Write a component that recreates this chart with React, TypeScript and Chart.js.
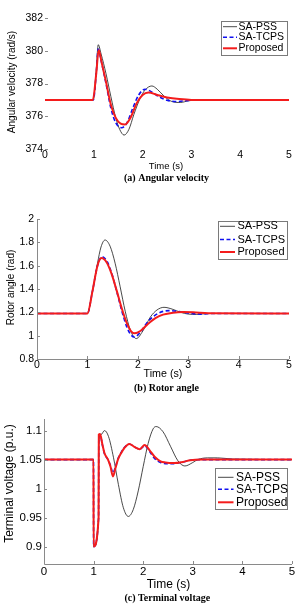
import React, { useEffect, useRef } from "react";
import { Chart, registerables } from "chart.js";
Chart.register(...registerables);

// ---------- shared axis data ----------
const X_TICKS = [0, 1, 2, 3, 4, 5];
const X_LABELS = ["0", "1", "2", "3", "4", "5"];
const SERIES_NAMES = ["SA-PSS", "SA-TCPS", "Proposed"];

// ---------- (a) Angular velocity ----------
const A_Y_TICKS = [374, 376, 378, 380, 382];
const A_Y_LABELS = ["374", "376", "378", "380", "382"];
const A_T_PSS = [0, 0.99, 1.05, 1.09, 1.15, 1.25, 1.35, 1.45, 1.53, 1.62, 1.72, 1.82, 1.95, 2.05, 2.19, 2.3, 2.45, 2.6, 2.77, 2.95, 3.2, 5];
const A_V_PSS = [377, 377, 378.8, 380.37, 379.8, 378.6, 377.2, 375.9, 375.2, 374.85, 375.2, 376.1, 377.1, 377.6, 377.85, 377.65, 377.2, 376.9, 376.84, 376.95, 377.0, 377];
const A_T_TCPS = [0, 0.99, 1.05, 1.09, 1.15, 1.25, 1.35, 1.45, 1.57, 1.68, 1.8, 1.92, 2.05, 2.15, 2.3, 2.5, 2.7, 2.9, 3.2, 5];
const A_V_TCPS = [377, 377, 378.6, 380.1, 379.4, 378.0, 376.5, 375.6, 375.3, 375.6, 376.5, 377.3, 377.65, 377.55, 377.25, 376.98, 376.9, 376.95, 377.0, 377];
const A_T_PROP = [0, 0.98, 1.05, 1.1, 1.16, 1.25, 1.35, 1.45, 1.55, 1.64, 1.75, 1.88, 2.0, 2.12, 2.3, 2.5, 2.75, 3.0, 5];
const A_V_PROP = [377, 377, 378.6, 380.05, 379.3, 378.1, 376.7, 375.9, 375.55, 375.5, 375.9, 376.8, 377.3, 377.45, 377.3, 377.15, 377.05, 377.0, 377];

// ---------- (b) Rotor angle ----------
const B_Y_TICKS = [0.8, 1, 1.2, 1.4, 1.6, 1.8, 2];
const B_Y_LABELS = ["0.8", "1", "1.2", "1.4", "1.6", "1.8", "2"];
const B_T_PSS = [0, 1.0, 1.1, 1.2, 1.27, 1.35, 1.45, 1.55, 1.65, 1.75, 1.85, 1.97, 2.1, 2.25, 2.38, 2.52, 2.68, 2.85, 3.0, 3.17, 3.4, 5];
const B_V_PSS = [1.19, 1.19, 1.38, 1.62, 1.76, 1.82, 1.767, 1.621, 1.419, 1.21, 1.05, 0.975, 1.04, 1.16, 1.22, 1.243, 1.228, 1.2, 1.185, 1.182, 1.19, 1.19];
const B_T_TCPS = [0, 1.0, 1.1, 1.2, 1.29, 1.39, 1.49, 1.59, 1.69, 1.79, 1.86, 1.93, 2.05, 2.2, 2.4, 2.62, 2.85, 3.05, 3.25, 3.5, 5];
const B_V_TCPS = [1.19, 1.19, 1.38, 1.6, 1.677, 1.636, 1.524, 1.366, 1.201, 1.066, 1.009, 0.988, 1.03, 1.12, 1.19, 1.215, 1.205, 1.19, 1.185, 1.19, 1.19];
const B_T_PROP = [0, 1.0, 1.1, 1.2, 1.28, 1.38, 1.48, 1.58, 1.68, 1.78, 1.86, 1.94, 2.05, 2.2, 2.35, 2.5, 2.7, 2.9, 3.1, 3.4, 5];
const B_V_PROP = [1.19, 1.19, 1.38, 1.6, 1.665, 1.629, 1.53, 1.388, 1.237, 1.109, 1.042, 1.02, 1.04, 1.1, 1.15, 1.18, 1.197, 1.202, 1.2, 1.193, 1.19];

// ---------- (c) Terminal voltage ----------
const C_Y_TICKS = [0.9, 0.95, 1, 1.05, 1.1];
const C_Y_LABELS = ["0.9", "0.95", "1", "1.05", "1.1"];
const C_T_PSS = [0, 0.998, 1.0, 1.1, 1.105, 1.15, 1.22, 1.3, 1.4, 1.5, 1.6, 1.7, 1.8, 1.9, 2.0, 2.1, 2.2, 2.26, 2.4, 2.55, 2.7, 2.84, 3.0, 3.1, 3.3, 3.5, 3.8, 5];
const C_V_PSS = [1.05, 1.05, 0.9, 0.949, 1.08, 1.093, 1.1, 1.09, 1.054, 1.007, 0.967, 0.952, 0.964, 0.996, 1.038, 1.078, 1.103, 1.107, 1.098, 1.073, 1.048, 1.039, 1.045, 1.05, 1.053, 1.053, 1.051, 1.05];
const C_T_TCPS = [0, 0.998, 1.0, 1.1, 1.105, 1.13, 1.18, 1.22, 1.29, 1.34, 1.39, 1.44, 1.49, 1.56, 1.62, 1.72, 1.82, 1.93, 2.03, 2.13, 2.23, 2.35, 2.45, 2.6, 2.8, 2.95, 3.2, 5];
const C_V_TCPS = [1.05, 1.05, 0.9, 0.949, 1.092, 1.093, 1.074, 1.06, 1.05, 1.04, 1.027, 1.037, 1.051, 1.063, 1.071, 1.077, 1.072, 1.068, 1.074, 1.064, 1.052, 1.045, 1.043, 1.043, 1.046, 1.049, 1.05, 1.05];
const C_T_PROP = [0, 0.998, 1.0, 1.1, 1.105, 1.13, 1.18, 1.22, 1.29, 1.34, 1.39, 1.44, 1.49, 1.56, 1.62, 1.72, 1.82, 1.93, 2.03, 2.13, 2.23, 2.35, 2.45, 2.6, 2.8, 2.95, 3.2, 5];
const C_V_PROP = [1.05, 1.05, 0.9, 0.949, 1.093, 1.094, 1.075, 1.061, 1.05, 1.038, 1.021, 1.035, 1.05, 1.062, 1.07, 1.077, 1.072, 1.068, 1.075, 1.066, 1.055, 1.047, 1.045, 1.044, 1.046, 1.049, 1.05, 1.05];

// ---------- styling ----------
const W = 301;
const SANS = '"Liberation Sans", Arial, sans-serif';
const SERIF = '"Liberation Serif", "Times New Roman", serif';
const STYLES = [
  { color: "#1a1a1a", width: 0.8, dash: [] as number[], order: 3 },
  { color: "#1010f0", width: 1.6, dash: [4, 2.5], order: 2 },
  { color: "#f41c1c", width: 2, dash: [] as number[], order: 1 },
];

type Spec = {
  top: number;
  height: number;
  area: { left: number; right: number; top: number; bottom: number };
  yMin: number;
  yMax: number;
  yTicks: number[];
  yLabels: string[];
  series: { t: number[]; v: number[] }[];
  tickFont: number;
  yTickPad: number;
  xTickPad: number;
  showAxes: boolean;
  xTicksMarks: boolean;
  yTitle: string;
  yTitleX: number;
  yTitleY: number;
  yTitleFont: number;
  xTitle: string;
  xTitleX: number;
  xTitleY: number;
  xTitleFont: number;
  caption: string;
  captionX: number;
  captionY: number;
  legend: { x1: number; y1: number; x2: number; y2: number; lx1: number; lx2: number; tx: number; rows: number[]; font: number };
};

const SPECS: Spec[] = [
  {
    top: 0, height: 190,
    area: { left: 45, right: 289, top: 18, bottom: 149 },
    yMin: 374, yMax: 382, yTicks: A_Y_TICKS, yLabels: A_Y_LABELS,
    series: [{ t: A_T_PSS, v: A_V_PSS }, { t: A_T_TCPS, v: A_V_TCPS }, { t: A_T_PROP, v: A_V_PROP }],
    tickFont: 10.5, yTickPad: 2, xTickPad: 0, showAxes: false, xTicksMarks: false,
    yTitle: "Angular velocity (rad/s)", yTitleX: 12.5, yTitleY: 82, yTitleFont: 10,
    xTitle: "Time (s)", xTitleX: 166, xTitleY: 166, xTitleFont: 9.5,
    caption: "(a) Angular velocity", captionX: 166.5, captionY: 178.5,
    legend: { x1: 221, y1: 20.5, x2: 287, y2: 54.5, lx1: 223, lx2: 237, tx: 238.5, rows: [26.7, 37.3, 48.3], font: 10.5 },
  },
  {
    top: 190, height: 206,
    area: { left: 37, right: 289, top: 29, bottom: 169 },
    yMin: 0.8, yMax: 2, yTicks: B_Y_TICKS, yLabels: B_Y_LABELS,
    series: [{ t: B_T_PSS, v: B_V_PSS }, { t: B_T_TCPS, v: B_V_TCPS }, { t: B_T_PROP, v: B_V_PROP }],
    tickFont: 10.5, yTickPad: 3, xTickPad: 0, showAxes: true, xTicksMarks: true,
    yTitle: "Rotor angle (rad)", yTitleX: 11.7, yTitleY: 97.5, yTitleFont: 10,
    xTitle: "Time (s)", xTitleX: 163, xTitleY: 184.3, xTitleFont: 10.7,
    caption: "(b) Rotor angle", captionX: 166.5, captionY: 198,
    legend: { x1: 218, y1: 30.7, x2: 287, y2: 68.3, lx1: 220, lx2: 235, tx: 237.5, rows: [36.3, 49.5, 62], font: 11 },
  },
  {
    top: 390, height: 216,
    area: { left: 44, right: 292, top: 29, bottom: 174 },
    yMin: 0.87, yMax: 1.12, yTicks: C_Y_TICKS, yLabels: C_Y_LABELS,
    series: [{ t: C_T_PSS, v: C_V_PSS }, { t: C_T_TCPS, v: C_V_TCPS }, { t: C_T_PROP, v: C_V_PROP }],
    tickFont: 11.5, yTickPad: 2, xTickPad: 1, showAxes: true, xTicksMarks: true,
    yTitle: "Terminal voltage (p.u.)", yTitleX: 10, yTitleY: 93.5, yTitleFont: 12,
    xTitle: "Time (s)", xTitleX: 168.5, xTitleY: 194.3, xTitleFont: 12,
    caption: "(c) Terminal voltage", captionX: 167.3, captionY: 208.3,
    legend: { x1: 215, y1: 78.3, x2: 287, y2: 119, lx1: 218, lx2: 233.5, tx: 236, rows: [87.3, 99.3, 112.3], font: 12 },
  },
];

function makeDecor(spec: Spec) {
  return {
    id: "decor",
    afterDraw(chart: any) {
      const ctx = chart.ctx as CanvasRenderingContext2D;
      const ca = chart.chartArea;
      const xs = chart.scales.x;
      const ys = chart.scales.y;
      ctx.save();
      ctx.strokeStyle = "#8a8a8a";
      ctx.lineWidth = 1;
      if (spec.showAxes) {
        ctx.beginPath();
        ctx.moveTo(Math.round(ca.left) + 0.5, ca.top);
        ctx.lineTo(Math.round(ca.left) + 0.5, Math.round(ca.bottom) + 0.5);
        ctx.lineTo(ca.right, Math.round(ca.bottom) + 0.5);
        ctx.stroke();
      }
      ctx.beginPath();
      spec.yTicks.forEach((v) => {
        const y = Math.round(ys.getPixelForValue(v)) + 0.5;
        ctx.moveTo(ca.left, y);
        ctx.lineTo(ca.left + 3, y);
      });
      if (spec.xTicksMarks) {
        X_TICKS.forEach((v) => {
          const x = Math.round(xs.getPixelForValue(v)) + 0.5;
          ctx.moveTo(x, ca.bottom);
          ctx.lineTo(x, ca.bottom - 3);
        });
      }
      ctx.stroke();

      // titles
      ctx.fillStyle = "#000";
      ctx.textAlign = "center";
      ctx.textBaseline = "middle";
      ctx.font = `${spec.xTitleFont}px ${SANS}`;
      ctx.fillText(spec.xTitle, spec.xTitleX, spec.xTitleY);
      ctx.save();
      ctx.translate(spec.yTitleX, spec.yTitleY);
      ctx.rotate(-Math.PI / 2);
      ctx.font = `${spec.yTitleFont}px ${SANS}`;
      ctx.fillText(spec.yTitle, 0, 0);
      ctx.restore();
      ctx.font = `bold 10px ${SERIF}`;
      ctx.fillText(spec.caption, spec.captionX, spec.captionY);

      // legend
      const lg = spec.legend;
      ctx.fillStyle = "#fff";
      ctx.fillRect(lg.x1, lg.y1, lg.x2 - lg.x1, lg.y2 - lg.y1);
      ctx.strokeStyle = "#7a7a7a";
      ctx.lineWidth = 1;
      ctx.strokeRect(Math.round(lg.x1) + 0.5, Math.round(lg.y1) + 0.5, Math.round(lg.x2 - lg.x1), Math.round(lg.y2 - lg.y1));
      SERIES_NAMES.forEach((name, i) => {
        const st = STYLES[i];
        const y = lg.rows[i];
        ctx.strokeStyle = st.color;
        ctx.lineWidth = st.width;
        ctx.setLineDash(st.dash);
        ctx.beginPath();
        ctx.moveTo(lg.lx1, y);
        ctx.lineTo(lg.lx2, y);
        ctx.stroke();
        ctx.setLineDash([]);
        ctx.fillStyle = "#000";
        ctx.font = `${lg.font}px ${SANS}`;
        ctx.textAlign = "left";
        ctx.textBaseline = "middle";
        ctx.fillText(name, lg.tx, y);
      });
      ctx.restore();
    },
  };
}

function Panel({ spec }: { spec: Spec }) {
  const ref = useRef<HTMLCanvasElement>(null);
  useEffect(() => {
    const a = spec.area;
    const chart = new Chart(ref.current as HTMLCanvasElement, {
      type: "line",
      data: {
        datasets: spec.series.map((s, i) => ({
          label: SERIES_NAMES[i],
          data: s.t.map((t, k) => ({ x: t, y: s.v[k] })),
          borderColor: STYLES[i].color,
          borderWidth: STYLES[i].width,
          borderDash: STYLES[i].dash,
          pointRadius: 0,
          fill: false,
          cubicInterpolationMode: "monotone",
          order: STYLES[i].order,
        })),
      },
      options: {
        animation: false,
        responsive: false,
        devicePixelRatio: 1,
        layout: { padding: { left: 0, top: a.top, right: W - a.right, bottom: 0 } },
        plugins: { legend: { display: false }, tooltip: { enabled: false }, title: { display: false } },
        scales: {
          x: {
            type: "linear",
            min: 0,
            max: 5,
            afterBuildTicks: (s: any) => {
              s.ticks = X_TICKS.map((v) => ({ value: v }));
            },
            afterFit: (s: any) => {
              s.height = spec.height - a.bottom;
            },
            ticks: {
              autoSkip: false,
              maxRotation: 0,
              color: "#000",
              padding: spec.xTickPad,
              font: { family: SANS, size: spec.tickFont },
              callback: (_v: any, i: number) => X_LABELS[i],
            },
            grid: { display: false, drawTicks: false },
            border: { display: false },
          },
          y: {
            type: "linear",
            min: spec.yMin,
            max: spec.yMax,
            afterBuildTicks: (s: any) => {
              s.ticks = spec.yTicks.map((v) => ({ value: v }));
            },
            afterFit: (s: any) => {
              s.width = a.left;
            },
            ticks: {
              autoSkip: false,
              color: "#000",
              padding: spec.yTickPad,
              font: { family: SANS, size: spec.tickFont },
              callback: (_v: any, i: number) => spec.yLabels[i],
            },
            grid: { display: false, drawTicks: false },
            border: { display: false },
          },
        },
      } as any,
      plugins: [makeDecor(spec)],
    });
    return () => chart.destroy();
  }, []);
  return (
    <canvas
      ref={ref}
      width={W}
      height={spec.height}
      style={{ position: "absolute", left: 0, top: spec.top, width: W, height: spec.height }}
    />
  );
}

export default function App() {
  return (
    <div style={{ position: "absolute", left: 0, top: 0, width: W, height: 606, background: "#fff", overflow: "hidden" }}>
      {SPECS.map((s, i) => (
        <Panel key={i} spec={s} />
      ))}
    </div>
  );
}
